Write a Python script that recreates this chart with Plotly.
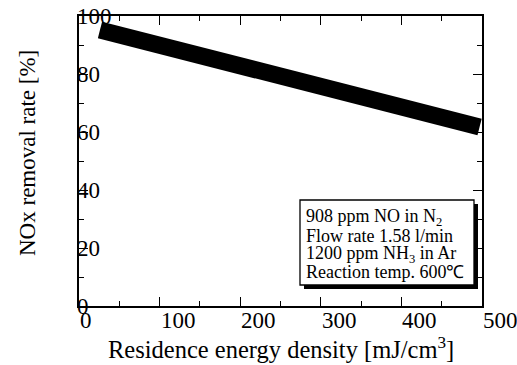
import plotly.graph_objects as go

# data
energy_density = [26, 497]          # mJ/cm3
nox_removal = [95.2, 61.7]          # %

x_tick_vals = [0, 100, 200, 300, 400, 500]
x_tick_text = ["0", "100", "200", "300", "400", "500"]
y_tick_vals = [0, 20, 40, 60, 80, 100]
y_tick_text = ["0", "20", "40", "60", "80", "100"]

conditions = ["908 ppm NO in N<sub>2</sub>",
              "Flow rate 1.58 l/min",
              "1200 ppm NH<sub>3</sub> in Ar",
              "Reaction temp. 600℃"]

FONT = "Liberation Serif"
W, H = 517, 365
ML, MR, MT, MB = 79, 35, 16, 59
PW, PH = W - ML - MR, H - MT - MB


def px2x(px):
    return (px - ML) / PW


def py2y(py):
    return (H - MB - py) / PH


fig = go.Figure()
fig.add_trace(go.Scatter(x=energy_density, y=nox_removal, mode="lines",
                         line=dict(color="black", width=17), showlegend=False))

axis_common = dict(showline=True, linecolor="black", linewidth=1.5, mirror="allticks",
                   ticks="inside", ticklen=9, tickwidth=1.3, tickcolor="black",
                   showgrid=False, zeroline=False, showticklabels=False,
                   minor=dict(ticks="inside", ticklen=5, tickwidth=1.3, tickcolor="black", showgrid=False))

fig.update_layout(
    width=W, height=H,
    margin=dict(l=ML, r=MR, t=MT, b=MB),
    paper_bgcolor="white", plot_bgcolor="white",
    font=dict(family=FONT, size=22, color="black"),
    xaxis=dict(range=[0, 500], tickvals=x_tick_vals, minor_dtick=50, **axis_common),
    yaxis=dict(range=[0, 100], tickvals=y_tick_vals, minor_dtick=10, **axis_common),
)

annotations = []
for v, t in zip(x_tick_vals, x_tick_text):
    annotations.append(dict(x=v, y=0, xref="x", yref="paper", text=t, showarrow=False,
                            xanchor="left", yanchor="middle", yshift=-14, xshift=-1,
                            font=dict(family=FONT, size=23)))
for v, t in zip(y_tick_vals, y_tick_text):
    annotations.append(dict(x=0, y=v, xref="paper", yref="y", text=t, showarrow=False,
                            xanchor="left", yanchor="middle", xshift=-4,
                            font=dict(family=FONT, size=23)))
annotations.append(dict(x=0.5, y=0, xref="paper", yref="paper",
                        text="Residence energy density [mJ/cm<sup>3</sup>]", showarrow=False,
                        xanchor="center", yanchor="middle", yshift=-42,
                        font=dict(family=FONT, size=24.5)))
annotations.append(dict(x=0, y=0.5, xref="paper", yref="paper",
                        text="NOx removal rate [%]", showarrow=False, textangle=-90,
                        xanchor="center", yanchor="middle", xshift=-52, yshift=8,
                        font=dict(family=FONT, size=23)))
for i, line in enumerate(conditions):
    annotations.append(dict(x=px2x(304), y=py2y(217.5 + 18.3 * i), xref="paper", yref="paper",
                            text=line, showarrow=False, align="left",
                            xanchor="left", yanchor="middle",
                            font=dict(family=FONT, size=18)))
fig.update_layout(annotations=annotations)

fig.add_shape(type="rect", xref="paper", yref="paper",
              x0=px2x(304), x1=px2x(478), y0=py2y(289), y1=py2y(204),
              fillcolor="black", line=dict(width=0), layer="above")
fig.add_shape(type="rect", xref="paper", yref="paper",
              x0=px2x(300), x1=px2x(474), y0=py2y(285), y1=py2y(200),
              fillcolor="white", line=dict(color="black", width=1.3), layer="above")

fig.write_html("out.html")
